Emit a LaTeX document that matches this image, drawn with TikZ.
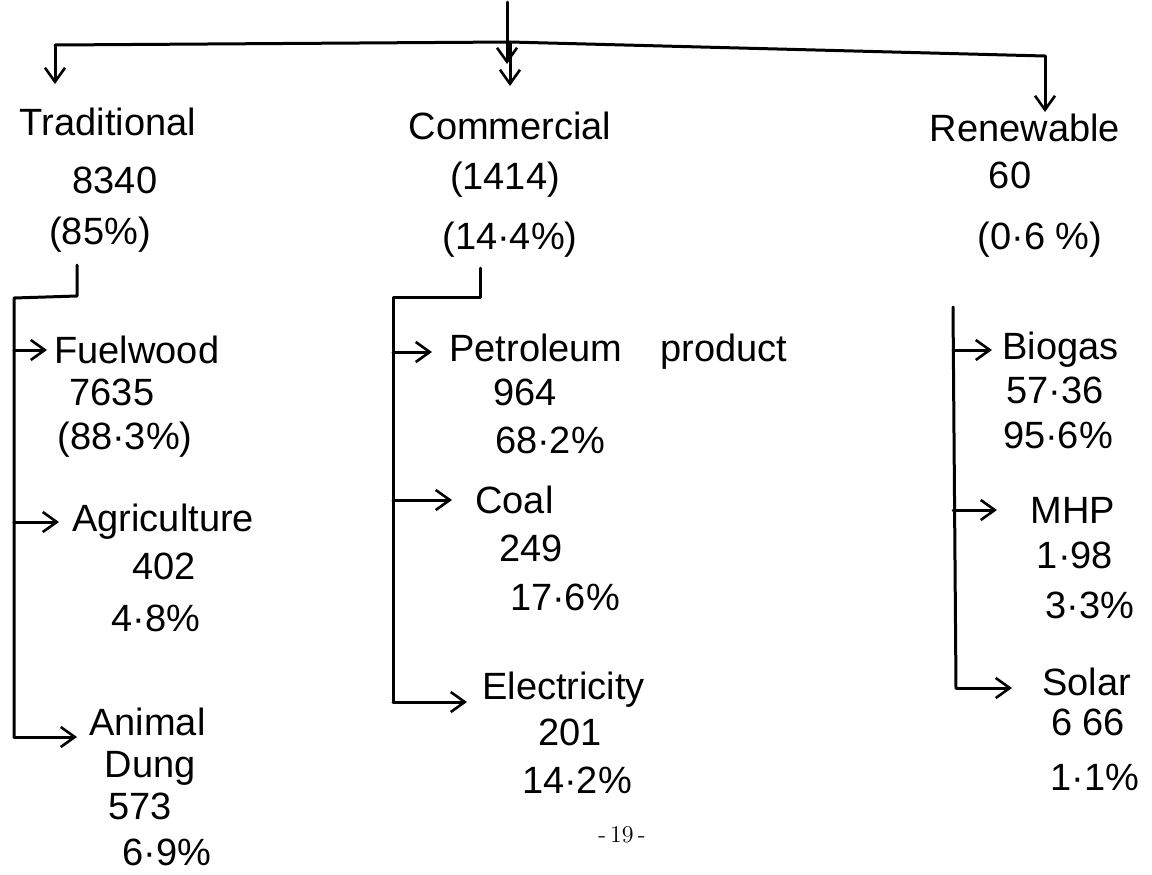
\documentclass[tikz,border=0pt]{standalone}
\usepackage{fontspec}
\setsansfont{Liberation Sans}
\usetikzlibrary{arrows.meta}
\begin{document}
\begin{tikzpicture}[x=0.5pt,y=-0.5pt,
  line/.style={line width=1.5pt, line join=round, line cap=round},
  arr/.style={line, -{Straight Barb[length=7pt,width=10pt,line width=1.3pt]}},
  lbl/.style={font=\sffamily\fontsize{19}{22}\selectfont, inner sep=1pt},
  head/.style={lbl, anchor=west}]
\useasboundingbox[fill=white] (0,0) rectangle (1152,874);

% top level labels
\node[lbl] (trad)  at (108,122) {Traditional};
\node[lbl] (tradv) at (115,180) {8340};
\node[lbl] (tradp) at (100,235) {(85\%)};
\node[lbl] (comm)  at (510,126) {Commercial};
\node[lbl] (commv) at (505,180) {(1414)};
\node[lbl] (commp) at (510,240) {(14·4\%)};
\node[lbl] (ren)   at (1025,128) {Renewable};
\node[lbl] (renv)  at (1010,175) {60};
\node[lbl] (renp)  at (1040,240) {(0·6 \%)};

% traditional items
\node[head] (fuel)  at (52,350) {Fuelwood};
\node[lbl]  (fuelv) at (112,392) {7635};
\node[lbl]  (fuelp) at (125,440) {(88·3\%)};
\node[head] (agri)  at (70,522) {Agriculture};
\node[lbl]  (agriv) at (164,566) {402};
\node[lbl]  (agrip) at (156,618) {4·8\%};
\node[head] (anim)  at (87,722) {Animal};
\node[lbl]  (dung)  at (150,768) {Dung};
\node[lbl]  (animv) at (140,806) {573};
\node[lbl]  (animp) at (167,852) {6·9\%};

% commercial items
\node[head] (pet)   at (447,352) {Petroleum\quad product};
\node[lbl]  (petv)  at (525,392) {964};
\node[lbl]  (petp)  at (550,440) {68·2\%};
\node[head] (coal)  at (473,500) {Coal};
\node[lbl]  (coalv) at (531,548) {249};
\node[lbl]  (coalp) at (565,597) {17·6\%};
\node[head] (elec)  at (480,690) {Electricity};
\node[lbl]  (elecv) at (570,732) {201};
\node[lbl]  (elecp) at (577,780) {14·2\%};
\node[font=\fontsize{12}{14}\selectfont] (page) at (622,835) {-\,19\,-};

% renewable items
\node[head] (bio)   at (1000,350) {Biogas};
\node[lbl]  (biov)  at (1055,390) {57·36};
\node[lbl]  (biop)  at (1058,435) {95·6\%};
\node[head] (mhp)   at (1028,510) {MHP};
\node[lbl]  (mhpv)  at (1075,555) {1·98};
\node[lbl]  (mhpp)  at (1090,605) {3·3\%};
\node[head] (solar) at (1040,682) {Solar};
\node[lbl]  (solarv) at (1088,722) {6 66};
\node[lbl]  (solarp) at (1095,777) {1·1\%};

% top connectors
\coordinate (top) at (507,2);
\coordinate (toptip) at (507,64);
\coordinate (jl) at (55,45);
\coordinate (jm) at (510,42);
\coordinate (jr) at (1045,56);
\coordinate (tl) at (55,84);
\coordinate (tm) at (510,86);
\coordinate (tr) at (1045,112);
\draw[arr] (top) -- (toptip);
\draw[line] (jl) -- (jm) -- (jr);
\draw[arr] (jl) -- (tl);
\draw[arr] (jm) -- (tm);
\draw[arr] (jr) -- (tr);

% traditional tree
\coordinate (t1) at (77,265);
\coordinate (t2) at (77,296);
\coordinate (t3) at (14,298);
\coordinate (t4) at (14,737);
\draw[line] (t1) -- (t2) -- (t3) -- (t4);
\draw[arr, shorten >=2.5pt] (t3 |- fuel.west) -- (fuel.west);
\draw[arr, shorten >=5.5pt] (t3 |- agri.west) -- (agri.west);
\draw[arr, shorten >=5pt] (t4) -- (t4 -| anim.west);

% commercial tree
\coordinate (c1) at (480,268);
\coordinate (c2) at (480,297);
\coordinate (c3) at (393,297);
\coordinate (c4) at (393,702);
\draw[line] (c1) -- (c2) -- (c3) -- (c4);
\draw[arr, shorten >=7.5pt] (c3 |- pet.west) -- (pet.west);
\draw[arr, shorten >=10.5pt] (c3 |- coal.west) -- (coal.west);
\draw[arr, shorten >=6.5pt] (c4) -- (c4 -| elec.west);

% renewable tree
\coordinate (r1) at (953,307);
\coordinate (r2) at (956,688);
\draw[line] (r1) -- (r2);
\draw[arr, shorten >=4pt] (r1 |- bio.west) -- (bio.west);
\draw[arr, shorten >=15.5pt] (r1 |- mhp.west) -- (mhp.west);
\draw[arr, shorten >=14pt] (r2) -- (r2 -| solar.west);
\end{tikzpicture}
\end{document}
